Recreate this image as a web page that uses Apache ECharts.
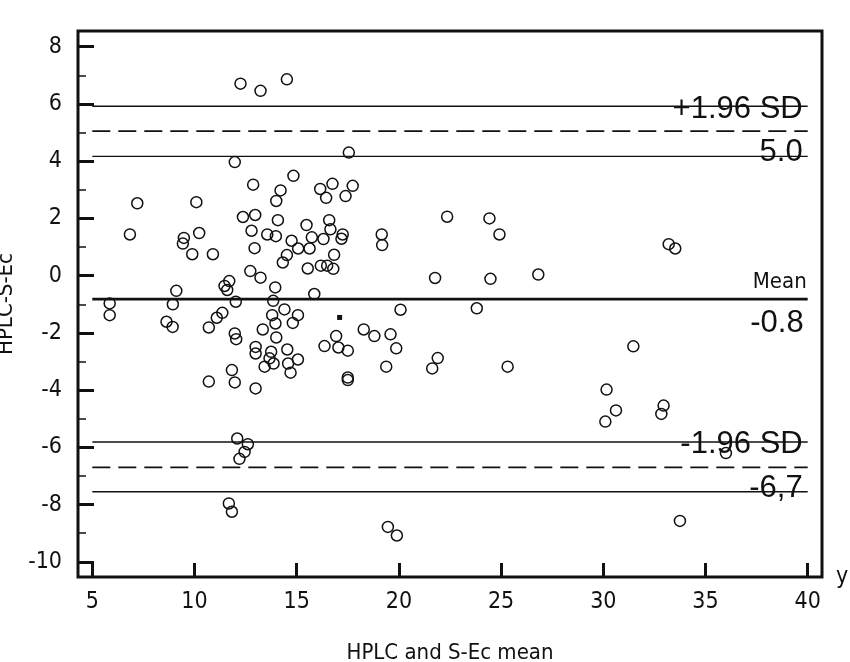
<!DOCTYPE html>
<html>
<head>
<meta charset="utf-8">
<title>Bland-Altman HPLC vs S-Ec</title>
<script src="https://cdn.jsdelivr.net/npm/echarts@6.0.0/dist/echarts.min.js"></script>
<style>
  html, body { margin: 0; padding: 0; background: #fff; }
  #chartmain { width: 850px; height: 662px; }
</style>
</head>
<body>
<div id="chartmain"></div>
<script>
// differences (y) against means (x)
var pointX = [
  12.25, 13.23, 14.52, 17.55, 11.97, 14.84, 12.87, 14.21, 14.00, 16.15,
  16.75, 16.44, 17.39, 17.74, 7.20, 10.09, 6.84, 10.23, 9.48, 9.43,
  9.89, 10.90, 12.37, 12.97, 14.08, 12.79, 13.56, 13.98, 12.94, 14.75,
  15.07, 15.63, 15.74, 15.48, 16.31, 16.59, 16.65, 17.25, 17.19, 16.83,
  14.52, 14.32, 15.54, 16.18, 16.49, 16.79, 12.73, 13.23, 13.95, 15.86,
  11.70, 11.60, 11.47, 9.11, 12.02, 13.85, 19.16, 19.18, 5.85, 5.85,
  8.94, 8.63, 8.93, 20.08,
  10.70, 11.09, 11.36, 11.97, 12.04, 10.70, 11.83, 11.97, 12.99, 12.99,
  12.99, 13.34, 13.43, 13.67, 13.75, 13.87, 13.80, 13.96, 14.00, 14.40,
  14.54, 14.58, 14.70, 14.81, 15.06, 15.06, 16.36, 16.93, 17.04, 17.50,
  17.50, 17.50, 18.28, 18.80, 19.59, 19.87, 19.38, 12.09, 12.61, 12.45,
  12.20, 11.68, 11.83, 19.46, 19.90,
  22.36, 24.43, 24.92, 33.20, 33.52, 21.77, 24.48, 26.82, 23.81, 21.90,
  21.63, 25.32, 31.47, 30.16, 30.62, 30.10, 32.95, 32.84, 33.75, 36.00
]
var pointY = [
  6.71, 6.46, 6.86, 4.30, 3.97, 3.49, 3.18, 2.98, 2.61, 3.03,
  3.21, 2.72, 2.78, 3.14, 2.53, 2.57, 1.44, 1.49, 1.32, 1.12,
  0.75, 0.75, 2.05, 2.12, 1.94, 1.57, 1.44, 1.38, 0.96, 1.22,
  0.95, 0.95, 1.34, 1.77, 1.28, 1.94, 1.62, 1.44, 1.29, 0.73,
  0.72, 0.46, 0.25, 0.35, 0.35, 0.24, 0.16, -0.07, -0.41, -0.64,
  -0.19, -0.50, -0.36, -0.53, -0.91, -0.88, 1.44, 1.07, -0.97, -1.38,
  -1.00, -1.61, -1.79, -1.19,
  -1.81, -1.47, -1.30, -2.02, -2.22, -3.70, -3.30, -3.73, -3.94, -2.49,
  -2.72, -1.88, -3.18, -2.89, -2.66, -3.07, -1.38, -1.67, -2.16, -1.18,
  -2.58, -3.07, -3.39, -1.65, -1.38, -2.93, -2.46, -2.11, -2.51, -2.62,
  -3.56, -3.65, -1.88, -2.11, -2.05, -2.54, -3.18, -5.69, -5.89, -6.16,
  -6.40, -7.96, -8.25, -8.78, -9.08,
  2.06, 2.00, 1.44, 1.10, 0.95, -0.08, -0.11, 0.04, -1.14, -2.88,
  -3.24, -3.18, -2.47, -3.98, -4.71, -5.10, -4.54, -4.83, -8.57, -6.20
]
// filled marker
var markerX = [17.1]
var markerY = [-1.46]

// reference lines: [lower CI, limit, upper CI]
var upperLimit = [4.17, 5.05, 5.92]
var meanDiff = -0.82
var lowerLimit = [-7.55, -6.7, -5.81]
var lineSpan = [5, 40]
var refLabels = ['+1.96 SD', '5.0', 'Mean', '-0.8', '-1.96 SD', '-6,7']

// axes
var xTicks = [5, 10, 15, 20, 25, 30, 35, 40]
var yTicks = [-10, -8, -6, -4, -2, 0, 2, 4, 6, 8]
var yMinorTicks = [-9, -7, -5, -3, -1, 1, 3, 5, 7]
var xRange = [4.3, 40.7]
var yRange = [-10.53, 8.55]

var narrow = "'DejaVu Sans Condensed', 'Liberation Sans Narrow', sans-serif"
var regular = "'Liberation Sans', Arial, sans-serif"
var ink = '#111'

function hline(v, width, dashed) {
  return {
    type: 'line',
    data: [[lineSpan[0], v], [lineSpan[1], v]],
    symbol: 'none',
    silent: true,
    z: 2,
    lineStyle: {
      color: ink,
      width: width,
      opacity: 1,
      type: dashed ? [18, 8] : 'solid',
    },
  }
}

function refLabel(v, text, dy, dist, font, size) {
  return {
    value: [lineSpan[1], v],
    label: {
      show: true,
      position: 'left',
      distance: dist,
      offset: [0, dy],
      formatter: text,
      fontFamily: font,
      fontSize: size,
      color: ink,
      opacity: 1,
    },
  }
}

var scatterData = pointX.map(function (x, i) {
  return [x, pointY[i]]
})
var markerData = markerX.map(function (x, i) {
  return [x, markerY[i]]
})

var option = {
  backgroundColor: '#fff',
  animation: false,
  grid: {
    show: true,
    left: 78,
    right: 28,
    top: 31,
    bottom: 85,
    borderColor: ink,
    borderWidth: 3,
    backgroundColor: '#fff',
    containLabel: false,
    outerBoundsMode: 'none',
  },
  xAxis: [
    {
      type: 'value',
      min: xRange[0],
      max: xRange[1],
      axisLine: { show: false, onZero: false },
      splitLine: { show: false },
      axisTick: {
        show: true,
        inside: true,
        length: 14,
        lineStyle: { color: ink, width: 3 },
        customValues: xTicks,
      },
      axisLabel: {
        customValues: xTicks,
        margin: 14,
        fontFamily: narrow,
        fontSize: 23,
        color: ink,
      },
      name: 'HPLC and S-Ec mean',
      nameLocation: 'middle',
      nameGap: 65,
      nameTextStyle: { fontFamily: narrow, fontSize: 22, color: ink },
    },
    {
      type: 'value',
      min: xRange[0],
      max: xRange[1],
      position: 'bottom',
      axisLine: { show: false, onZero: false },
      splitLine: { show: false },
      axisTick: { show: false },
      axisLabel: { show: false },
      name: 'y',
      nameLocation: 'end',
      nameGap: 14,
      nameTextStyle: {
        fontFamily: narrow,
        fontSize: 23,
        color: ink,
        verticalAlign: 'middle',
        padding: [0, 0, 6, 0],
      },
    },
  ],
  yAxis: [
    {
      type: 'value',
      min: yRange[0],
      max: yRange[1],
      axisLine: { show: false, onZero: false },
      splitLine: { show: false },
      axisTick: {
        show: true,
        inside: true,
        length: 16,
        lineStyle: { color: ink, width: 3 },
        customValues: yTicks,
      },
      axisLabel: {
        customValues: yTicks,
        margin: 16,
        fontFamily: narrow,
        fontSize: 23,
        color: ink,
      },
      name: 'HPLC-S-Ec',
      nameLocation: 'middle',
      nameGap: 47,
      nameTextStyle: { fontFamily: narrow, fontSize: 22, color: ink },
    },
    {
      type: 'value',
      min: yRange[0],
      max: yRange[1],
      position: 'left',
      axisLine: { show: false, onZero: false },
      splitLine: { show: false },
      axisLabel: { show: false },
      axisTick: {
        show: true,
        inside: true,
        length: 8,
        lineStyle: { color: ink, width: 1.5 },
        customValues: yMinorTicks,
      },
    },
  ],
  series: [
    hline(upperLimit[2], 1.4, false),
    hline(upperLimit[1], 1.6, true),
    hline(upperLimit[0], 1.4, false),
    hline(meanDiff, 2.6, false),
    hline(lowerLimit[2], 1.4, false),
    hline(lowerLimit[1], 1.6, true),
    hline(lowerLimit[0], 1.4, false),
    {
      name: 'points',
      type: 'scatter',
      symbol: 'circle',
      symbolSize: 11,
      z: 3,
      itemStyle: {
        color: 'rgba(255,255,255,0)',
        borderColor: ink,
        borderWidth: 1.5,
        opacity: 1,
      },
      data: scatterData,
    },
    {
      name: 'marker',
      type: 'scatter',
      symbol: 'rect',
      symbolSize: 5,
      z: 3,
      itemStyle: { color: ink, opacity: 1 },
      data: markerData,
    },
    {
      name: 'labels',
      type: 'scatter',
      symbolSize: 0,
      silent: true,
      z: 4,
      itemStyle: { color: '#fff', opacity: 1 },
      data: [
        refLabel(upperLimit[2], refLabels[0], 3, 5, regular, 31),
        refLabel(upperLimit[0], refLabels[1], -4, 5, regular, 31),
        refLabel(meanDiff, refLabels[2], -16.5, 1, narrow, 22),
        refLabel(meanDiff, refLabels[3], 24, 4, regular, 31),
        refLabel(lowerLimit[2], refLabels[4], 2.5, 5, regular, 31),
        refLabel(lowerLimit[0], refLabels[5], -3, 5, regular, 31),
      ],
    },
  ],
}

var myChart = echarts.init(document.getElementById('chartmain'))
myChart.setOption(option)
</script>
</body>
</html>
